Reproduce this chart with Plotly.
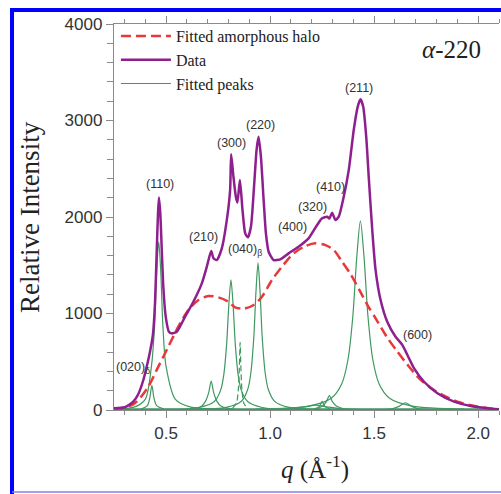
import plotly.graph_objects as go

# ---------------- data ----------------
q_data = [0.25, 0.302, 0.3425, 0.367, 0.391, 0.407, 0.423, 0.437, 0.447, 0.455, 0.4615, 0.466,
          0.4725, 0.479, 0.487, 0.4985, 0.514, 0.527, 0.5515, 0.5915, 0.6315, 0.672, 0.696,
          0.717, 0.728, 0.744, 0.768, 0.792, 0.808, 0.813, 0.824, 0.8355, 0.843, 0.855, 0.8675,
          0.8805, 0.8935, 0.908, 0.924, 0.935, 0.9445, 0.956, 0.969, 0.980, 0.993, 1.017, 1.049,
          1.089, 1.137, 1.185, 1.226, 1.250, 1.274, 1.285, 1.298, 1.314, 1.330, 1.354, 1.378,
          1.402, 1.421, 1.4345, 1.4475, 1.462, 1.475, 1.491, 1.507, 1.531, 1.563, 1.603, 1.636,
          1.660, 1.692, 1.740, 1.804, 1.884, 1.964, 2.044, 2.10]
I_data = [18, 28, 86, 166, 311, 449, 604, 780, 1108, 1626, 2040, 2203,
          2038, 1692, 1277, 967, 811, 794, 811, 967, 1122, 1312, 1485,
          1647, 1572, 1554, 1675, 1968, 2279, 2649, 2417, 2210, 2150, 2383, 2072,
          1830, 1789, 1899, 2349, 2694, 2831, 2624, 2176, 1830, 1640, 1554, 1561,
          1623, 1692, 1779, 1917, 1986, 2003, 1985, 2044, 1968, 2003, 2210, 2486,
          2901, 3142, 3219, 3142, 2831, 2383, 1865, 1450, 1140, 915, 759, 673,
          570, 432, 293, 173, 86, 41, 18, 7]

q_halo = [0.25, 0.30, 0.34, 0.367, 0.415, 0.463, 0.511, 0.559, 0.607, 0.656, 0.704, 0.752,
          0.800, 0.832, 0.872, 0.921, 0.961, 1.009, 1.057, 1.113, 1.170, 1.218, 1.266, 1.306,
          1.345, 1.386, 1.43, 1.47, 1.51, 1.56, 1.61, 1.66, 1.72, 1.80, 1.90, 2.00, 2.10]
I_halo = [10, 25, 55, 104, 242, 449, 656, 863, 1036, 1140, 1181, 1167,
          1122, 1064, 1050, 1088, 1174, 1347, 1485, 1623, 1699, 1727, 1709, 1658,
          1540, 1410, 1240, 1080, 940, 760, 610, 470, 320, 190, 86, 34, 8]

# fitted peaks (each list); baseline of the fit is zero
peak_base_q = [0.25, 2.10]
peak_base_I = [0, 0]
p020_q = [0.38, 0.41, 0.422, 0.432, 0.442, 0.455, 0.49]
p020_I = [10, 45, 125, 255, 125, 45, 10]
p110_q = [0.25, 0.35, 0.40, 0.43, 0.445, 0.455, 0.465, 0.475, 0.485, 0.50, 0.545, 0.615, 0.80, 1.20]
p110_I = [8, 32, 110, 455, 870, 1420, 1745, 1420, 870, 455, 110, 33, 7, 2]
p210_q = [0.55, 0.62, 0.67, 0.69, 0.705, 0.717, 0.729, 0.744, 0.765, 0.82, 1.0]
p210_I = [4, 10, 38, 92, 180, 300, 180, 92, 38, 10, 1]
p300_q = [0.50, 0.66, 0.732, 0.762, 0.777, 0.791, 0.802, 0.812, 0.822, 0.833, 0.847, 0.862, 0.892, 0.962, 1.11]
p300_I = [6, 26, 88, 203, 357, 675, 1100, 1350, 1100, 675, 357, 203, 88, 26, 6]
p040_q = [0.82, 0.838, 0.847, 0.852, 0.856, 0.860, 0.865, 0.874, 0.89]
p040_I = [20, 70, 200, 420, 700, 420, 200, 70, 20]
p220_q = [0.64, 0.79, 0.862, 0.892, 0.907, 0.922, 0.932, 0.942, 0.952, 0.962, 0.977, 0.992, 1.022, 1.092, 1.24]
p220_I = [7, 27, 90, 210, 376, 762, 1220, 1525, 1220, 762, 376, 210, 90, 27, 7]
p400_q = [1.0, 1.1, 1.17, 1.22, 1.27, 1.34, 1.45]
p400_I = [5, 15, 33, 50, 33, 15, 5]
p320_q = [1.21, 1.235, 1.243, 1.25, 1.257, 1.265, 1.29]
p320_I = [8, 35, 60, 90, 60, 35, 8]
p410_q = [1.22, 1.25, 1.27, 1.285, 1.30, 1.32, 1.36]
p410_I = [10, 40, 85, 150, 85, 40, 10]
p211_q = [0.93, 1.184, 1.294, 1.344, 1.374, 1.398, 1.416, 1.434, 1.452, 1.470, 1.494, 1.524, 1.574, 1.684, 1.934]
p211_I = [10, 40, 122, 270, 518, 980, 1568, 1960, 1568, 980, 518, 270, 122, 40, 10]
p600_q = [1.55, 1.59, 1.62, 1.65, 1.68, 1.71, 1.75]
p600_I = [6, 15, 38, 75, 38, 15, 6]

peak_labels = ["(020)<sub>δ</sub>", "(110)", "(210)", "(300)", "(220)", "(040)<sub>β</sub>",
               "(400)", "(320)", "(410)", "(211)", "(600)"]
label_q = [0.3425, 0.471, 0.680, 0.813, 0.953, 0.8805, 1.1055, 1.202, 1.290, 1.426, 1.7076]
label_I = [438, 2338, 1795, 2769, 2953, 1658, 1899, 2106, 2313, 3333, 777]

x_ticks = [0.5, 1.0, 1.5, 2.0]
y_ticks = [0, 1000, 2000, 3000, 4000]

# ---------------- styles ----------------
GREEN = "#3f9860"
PURPLE = "#8e1f8e"
RED = "#e8383a"
GRAY = "#8a8a8a"
SERIF = "Liberation Serif, Times New Roman, serif"
SANS = "Liberation Sans, Arial, sans-serif"

fig = go.Figure()

peaks = [(peak_base_q, peak_base_I, "solid", 3.5),
         (p020_q, p020_I, "solid", 1.2), (p110_q, p110_I, "solid", 1.2), (p210_q, p210_I, "solid", 1.2),
         (p300_q, p300_I, "solid", 1.2), (p040_q, p040_I, "6px,3px", 1.2), (p220_q, p220_I, "solid", 1.2),
         (p400_q, p400_I, "solid", 1.2), (p320_q, p320_I, "solid", 1.2), (p410_q, p410_I, "solid", 1.2),
         (p211_q, p211_I, "solid", 1.2), (p600_q, p600_I, "solid", 1.2)]
for i, (pq, pI, dsh, lw) in enumerate(peaks):
    fig.add_trace(go.Scatter(
        x=pq, y=pI, mode="lines", name="Fitted peaks", legendgroup="peaks",
        showlegend=(i == 2), legendrank=3,
        line=dict(color=GREEN, width=lw, shape="spline", smoothing=0.8, dash=dsh),
        hoverinfo="skip"))

fig.add_trace(go.Scatter(
    x=q_halo, y=I_halo, mode="lines", name="Fitted amorphous halo", legendrank=1,
    line=dict(color=RED, width=2.5, dash="10px,5px", shape="spline", smoothing=0.8)))
fig.add_trace(go.Scatter(
    x=q_data, y=I_data, mode="lines", name="Data", legendrank=2,
    line=dict(color=PURPLE, width=2.5, shape="spline", smoothing=0.6)))

annotations = []
for t, xq, yi in zip(peak_labels, label_q, label_I):
    annotations.append(dict(x=xq, y=yi, xref="x", yref="y", text=t, showarrow=False,
                            xanchor="center", yanchor="middle",
                            font=dict(family=SANS, size=12.5, color="#333333")))
annotations += [
    dict(x=0.877, y=0.933, xref="paper", yref="paper", text="<i>α</i>-220", showarrow=False,
         xanchor="center", yanchor="middle",
         font=dict(family=SERIF, size=25, color="#222222")),
    dict(x=-0.218, y=0.5, xref="paper", yref="paper", text="Relative Intensity", textangle=-90,
         xanchor="center", yanchor="middle",
         showarrow=False, font=dict(family=SERIF, size=27, color="#222222")),
    dict(x=0.522, y=-0.150, xref="paper", yref="paper", text="<i>q</i> (Å<sup>-1</sup>)",
         xanchor="center", yanchor="middle",
         showarrow=False, font=dict(family=SERIF, size=25, color="#222222")),
]

shapes = [
    dict(type="line", xref="paper", yref="paper", x0=-0.2649, x1=-0.2649, y0=1.0415, y1=-0.2176,
         line=dict(color="#0000ff", width=4)),
    dict(type="line", xref="paper", yref="paper", x0=-0.2701, x1=1.0052, y0=1.0363, y1=1.0363,
         line=dict(color="#0000ff", width=4)),
    dict(type="line", xref="paper", yref="paper", x0=-0.2649, x1=1.0052, y0=-0.2124, y1=-0.2124,
         line=dict(color="#8080f0", width=1.5)),
]

fig.update_layout(
    template="none",
    width=501, height=494,
    margin=dict(l=114, r=2, t=24, b=84, autoexpand=False),
    paper_bgcolor="white", plot_bgcolor="white",
    showlegend=True,
    legend=dict(x=0.005, y=1.013, xanchor="left", yanchor="top", bgcolor="rgba(0,0,0,0)",
                font=dict(family=SERIF, size=16, color="#222222"), itemwidth=50,
                tracegroupgap=0, borderwidth=0),
    annotations=annotations,
    shapes=shapes,
    xaxis=dict(range=[0.25, 2.1], tickvals=x_ticks, ticktext=[f"{v:.1f}" for v in x_ticks],
               automargin=False,
               ticks="outside", ticklen=7, tickwidth=1.3, tickcolor=GRAY,
               minor=dict(dtick=0.1, tick0=0, ticks="outside", ticklen=4, tickcolor=GRAY, tickwidth=1.2),
               showline=True, linecolor=GRAY, linewidth=1.3, mirror="allticks",
               showgrid=False, zeroline=False, layer="below traces",
               tickfont=dict(family=SANS, size=17, color="#333333")),
    yaxis=dict(range=[0, 4000], tickvals=y_ticks, ticks="outside", ticklen=7, tickwidth=1.3,
               tickcolor=GRAY, automargin=False,
               minor=dict(dtick=200, tick0=0, ticks="outside", ticklen=6, tickcolor=GRAY, tickwidth=1.2),
               showline=True, linecolor=GRAY, linewidth=1.3, mirror=False,
               showgrid=False, zeroline=False, layer="below traces",
               tickfont=dict(family=SANS, size=17, color="#333333")),
    yaxis2=dict(range=[0, 4000], overlaying="y", side="right", anchor="x", automargin=False,
                tickvals=y_ticks, ticks="inside", ticklen=6, tickwidth=1.3, tickcolor=GRAY,
                minor=dict(dtick=200, tick0=0, ticks="inside", ticklen=5, tickcolor=GRAY, tickwidth=1.2),
                showticklabels=False, showline=True, linecolor=GRAY, linewidth=1.3,
                showgrid=False, zeroline=False, layer="below traces"),
)

fig.write_html("out.html")
